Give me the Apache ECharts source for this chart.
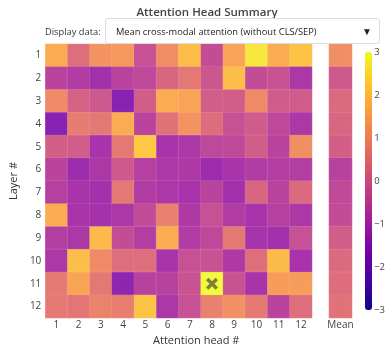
<!DOCTYPE html>
<html>
<head>
<meta charset="utf-8">
<script src="https://cdn.jsdelivr.net/npm/echarts@6/dist/echarts.min.js"></script>
<style>
  html, body { margin: 0; padding: 0; background: #fff; }
  #wrap { position: relative; width: 388px; height: 351px; }
  #chart { width: 388px; height: 351px; }
  .picker-label { position: absolute; left: 45px; top: 25px; font: 9.3px 'Open Sans', sans-serif; color: #333; }
  .picker { position: absolute; left: 105px; top: 18px; width: 273px; height: 24px; border: 1px solid #d4dbe3;
            border-radius: 3px; background: #fff; font: 9.3px 'Open Sans', sans-serif; color: #222; }
  .picker span { position: absolute; left: 10px; top: 6px; }
  .picker b { position: absolute; right: 7px; top: 5px; font-size: 10px; color: #222; }
</style>
</head>
<body>
<div id="wrap">
  <div id="chart"></div>
  <div class="picker-label">Display data:</div>
  <div class="picker"><span>Mean cross-modal attention (without CLS/SEP)</span><b>▼</b></div>
</div>
<script>
const heads = ['1', '2', '3', '4', '5', '6', '7', '8', '9', '10', '11', '12'];
const layers = ['1', '2', '3', '4', '5', '6', '7', '8', '9', '10', '11', '12'];

// one row per layer, one value per head
const headScores = [
  [1.7, 0.4, 1.2, 1.3, -0.3, 1.1, 2.0, -0.4, 1.5, 2.7, 1.7, 2.1],
  [-0.6, -0.8, -1.1, -0.6, -0.5, 0.2, 0.6, -0.15, 2.0, -0.4, -0.25, -0.9],
  [1.0, 0.1, -0.1, -1.6, 0.0, 1.7, 1.5, 0.0, 0.0, 1.0, -0.05, -0.05],
  [-1.6, 0.7, 0.6, 1.7, -0.6, 0.5, 1.2, 0.35, -0.3, -0.05, -0.5, -0.9],
  [0.05, 0.0, -1.0, 0.6, 2.2, -1.0, -0.9, -0.5, -0.5, 0.0, -0.6, 1.1],
  [-0.6, -1.2, -0.9, -0.1, -0.7, -0.9, -0.85, -1.2, -1.0, -0.8, -0.75, -0.75],
  [-0.7, -1.0, -1.1, 0.6, -0.8, -0.9, -1.0, -0.6, -1.1, 0.2, -0.6, 0.3],
  [1.7, -1.0, -1.05, -0.9, -0.4, 0.8, -0.85, -0.3, -0.8, -1.0, -0.7, -0.9],
  [-0.75, -0.9, 1.95, -0.4, -0.75, 1.7, -0.8, -0.5, 0.6, -1.0, -1.1, -0.3],
  [-0.9, 2.0, 1.0, 0.4, 0.4, -1.0, -0.3, -0.25, -0.85, 0.4, 1.95, -1.0],
  [0.65, 1.5, 0.6, -1.45, -0.65, -0.65, -0.25, 3.0, -0.25, -1.0, 1.4, 1.4],
  [0.65, 0.55, 0.85, 0.75, 2.1, -0.9, -0.3, 0.8, 1.15, 0.65, -0.6, 0.4]
];
const layerMeans = [1.1, -0.1, 0.3, 0.2, 0.05, -0.65, -0.45, -0.4, 0.0, 0.3, 0.35, 0.5];
const meanLabel = ['Mean'];
const markedCell = ['8', '11']; // head, layer

const plasma = ['#0d0887', '#46039f', '#7201a8', '#9c179e', '#bd3786',
                '#d8576b', '#ed7953', '#fb9f3a', '#fdca26', '#f0f921'];

const cells = [];
headScores.forEach((row, li) => row.forEach((v, hi) => cells.push([hi, li, v])));
const meanCells = layerMeans.map((v, li) => [0, li, v]);

const font = 'Open Sans';
const tickStyle = { color: '#444', fontSize: 10, fontFamily: font };
const minus = v => (v < 0 ? '\u2212' + Math.abs(v) : String(v));

const chart = echarts.init(document.getElementById('chart'));
chart.setOption({
  animation: false,
  title: {
    text: 'Attention Head Summary', left: 202, top: 2, textAlign: 'center',
    textStyle: { fontFamily: font, fontSize: 11.5, fontWeight: 600, color: '#444' }
  },
  graphic: [{
    type: 'text', left: 153, top: 335,
    style: { text: 'Attention head #', fontFamily: font, fontSize: 11, fill: '#333' }
  }],
  grid: [
    { left: 43, top: 44, width: 269, height: 274 },
    { left: 329, top: 44, width: 23, height: 274 },
    { left: 365, top: 52, width: 7, height: 258 }
  ],
  xAxis: [
    { gridIndex: 0, type: 'category', data: heads, axisLine: { show: false }, axisTick: { show: false },
      axisLabel: Object.assign({ margin: 2 }, tickStyle) },
    { gridIndex: 1, type: 'category', data: meanLabel, axisLine: { show: false }, axisTick: { show: false },
      axisLabel: Object.assign({ margin: 2 }, tickStyle) },
    { gridIndex: 2, type: 'value', show: false }
  ],
  yAxis: [
    { gridIndex: 0, type: 'category', data: layers, inverse: true, axisLine: { show: false }, axisTick: { show: false },
      axisLabel: Object.assign({ margin: 4 }, tickStyle),
      name: 'Layer #', nameLocation: 'middle', nameRotate: 90, nameGap: 20,
      nameTextStyle: { fontFamily: font, fontSize: 11, color: '#333' } },
    { gridIndex: 1, type: 'category', data: layers, inverse: true, show: false },
    { gridIndex: 2, type: 'value', min: -3, max: 3, interval: 1, position: 'right',
      axisLine: { show: false }, axisTick: { show: false }, splitLine: { show: false },
      axisLabel: Object.assign({ margin: 4, formatter: minus }, tickStyle, { fontSize: 9.5 }) }
  ],
  visualMap: {
    type: 'continuous', min: -3, max: 3, seriesIndex: [0, 1], calculable: false,
    left: 365, top: 52, itemWidth: 7, itemHeight: 258, padding: 0, text: ['', ''],
    showLabel: false, inRange: { color: plasma }
  },
  series: [
    { type: 'heatmap', xAxisIndex: 0, yAxisIndex: 0, data: cells,
      itemStyle: { opacity: 0.88, borderColor: 'rgba(255,255,255,0.25)', borderWidth: 0.6 } },
    { type: 'heatmap', xAxisIndex: 1, yAxisIndex: 1, data: meanCells,
      itemStyle: { opacity: 0.88, borderColor: 'rgba(255,255,255,0.25)', borderWidth: 0.6 } },
    { type: 'scatter', xAxisIndex: 0, yAxisIndex: 0, data: [markedCell], silent: true,
      symbol: 'path://M2,0 L5,3 L8,0 L10,2 L7,5 L10,8 L8,10 L5,7 L2,10 L0,8 L3,5 L0,2 Z',
      symbolSize: 12, itemStyle: { color: 'rgba(70,70,50,0.85)' } }
  ]
});
</script>
</body>
</html>
